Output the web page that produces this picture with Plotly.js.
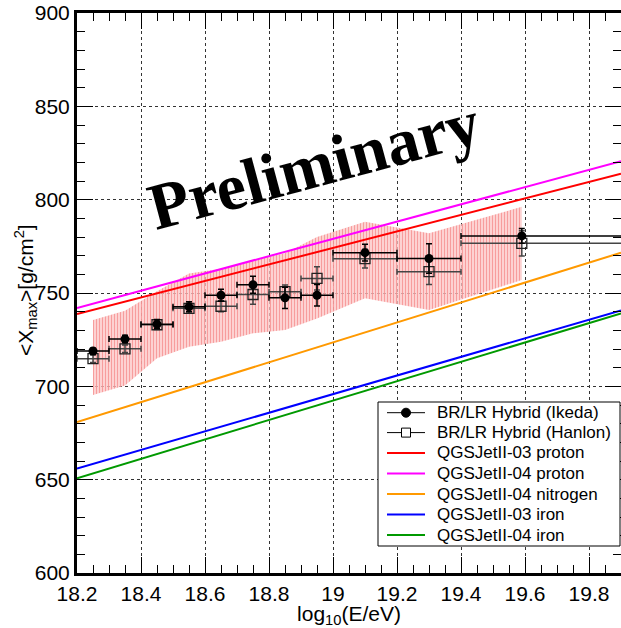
<!DOCTYPE html>
<html>
<head>
<meta charset="utf-8">
<script src="https://cdn.plot.ly/plotly-3.0.1.min.js"></script>
<style>html,body{margin:0;padding:0;background:#fff;}#chart{width:621px;height:628px;}</style>
</head>
<body>
<div id="chart"></div>
<script>
// ---- data ----
const logE      = [18.25, 18.35, 18.45, 18.55, 18.65, 18.75, 18.85, 18.95, 19.10, 19.30, 19.59];
const binMinus  = [0.05, 0.05, 0.05, 0.05, 0.05, 0.05, 0.05, 0.05, 0.10, 0.10, 0.19];
const binPlus   = [0.05, 0.05, 0.05, 0.05, 0.05, 0.05, 0.05, 0.05, 0.10, 0.10, 0.60];
const ikedaXmax = [718.9, 725.3, 733.3, 742.6, 748.8, 754.4, 747.4, 748.8, 771.6, 768.5, 780.6];
const ikedaErr  = [1.5, 2.0, 2.5, 2.7, 3.2, 4.6, 5.7, 5.7, 4.5, 7.9, 3.9];
const hanlonXmax= [714.8, 720.1, 733.0, 741.8, 742.9, 749.2, 750.7, 757.8, 768.4, 761.4, 776.6];
const hanlonErr = [2.0, 2.0, 2.5, 2.7, 3.0, 5.2, 3.6, 6.2, 5.0, 6.8, 6.8];
const sysUpper  = [735.5, 740.5, 751.0, 760.5, 763.0, 767.7, 771.3, 780.0, 788.2, 782.0, 796.2];
const sysLower  = [695.4, 700.5, 715.0, 721.2, 723.9, 728.4, 730.2, 736.4, 747.2, 740.9, 757.0];

const modelE    = [18.2, 19.9];
const qgs03p    = [738.8, 813.9];
const qgs04p    = [742.0, 820.6];
const qgs04N    = [680.8, 771.6];
const qgs03Fe   = [655.9, 740.7];
const qgs04Fe   = [650.8, 739.1];

const xTicks = [18.2, 18.4, 18.6, 18.8, 19.0, 19.2, 19.4, 19.6, 19.8];
const xTickText = ['18.2', '18.4', '18.6', '18.8', '19', '19.2', '19.4', '19.6', '19.8'];

const legendNames  = ['BR/LR Hybrid (Ikeda)', 'BR/LR Hybrid (Hanlon)', 'QGSJetII-03 proton', 'QGSJetII-04 proton',
                      'QGSJetII-04 nitrogen', 'QGSJetII-03 iron', 'QGSJetII-04 iron'];
const modelColors  = ['#ff0000', '#ff00ff', '#ff9900', '#0000ff', '#009900'];

const FONT = 'Liberation Sans, Arial, Helvetica, sans-serif';

// plot area geometry (pixels) for placing legend / labels in paper coordinates
const W = 621, H = 628, ML = 77, MR = 0, MT = 13, MB = 55;
const PW = W - ML - MR, PH = H - MT - MB;
const px = v => (v - ML) / PW;
const py = v => (H - MB - v) / PH;

// ---- traces ----
const bandX = logE.concat(logE.slice().reverse());
const bandY = sysUpper.concat(sysLower.slice().reverse());

const models = [qgs03p, qgs04p, qgs04N, qgs03Fe, qgs04Fe];

const traces = [
  {
    x: bandX, y: bandY, type: 'scatter', mode: 'lines', fill: 'toself',
    line: {width: 0, color: 'rgba(0,0,0,0)'},
    fillcolor: 'rgba(255,255,255,0)',
    fillpattern: {shape: '|', fgcolor: 'rgba(245,140,140,0.8)', bgcolor: 'rgba(255,215,215,0.7)', size: 3, solidity: 0.5},
    showlegend: false, hoverinfo: 'skip'
  }
];
models.forEach((m, i) => traces.push({
  x: modelE, y: m, mode: 'lines', line: {color: modelColors[i], width: 2}, name: legendNames[i + 2], showlegend: false
}));
traces.push({
  x: logE, y: hanlonXmax, mode: 'markers', type: 'scatter', name: legendNames[1],
  marker: {symbol: 'square-open', size: 10, color: '#222', line: {width: 1.3, color: '#222'}},
  error_y: {type: 'data', array: hanlonErr, visible: true, color: '#444', thickness: 1.5, width: 3},
  error_x: {type: 'data', array: binPlus, arrayminus: binMinus, symmetric: false, visible: true, color: '#444', thickness: 1.5, width: 3},
  showlegend: false
});
traces.push({
  x: logE, y: ikedaXmax, mode: 'markers', type: 'scatter', name: legendNames[0],
  marker: {symbol: 'circle', size: 9, color: '#000'},
  error_y: {type: 'data', array: ikedaErr, visible: true, color: '#000', thickness: 1.5, width: 3},
  error_x: {type: 'data', array: binPlus, arrayminus: binMinus, symmetric: false, visible: true, color: '#000', thickness: 1.5, width: 3},
  showlegend: false
});

// ---- legend (drawn as shapes + text) ----
const shapes = [];
const annotations = [];
const box = {x0: 378, x1: 620, y0: 402, y1: 546};
shapes.push({type: 'rect', xref: 'paper', yref: 'paper', x0: px(box.x0), x1: px(box.x1), y0: py(box.y1), y1: py(box.y0),
             fillcolor: '#fff', line: {color: '#000', width: 1}, layer: 'above'});
const rowY = [412.7, 432.6, 452.9, 473.4, 494.0, 514.6, 535.0];
const symX0 = 387, symX1 = 425, symC = 406;
legendNames.forEach((name, i) => {
  const yy = py(rowY[i]);
  const col = i < 2 ? '#000' : modelColors[i - 2];
  shapes.push({type: 'line', xref: 'paper', yref: 'paper', x0: px(symX0), x1: px(symX1), y0: yy, y1: yy,
               line: {color: col, width: i < 2 ? 1 : 2}, layer: 'above'});
  if (i === 0) {
    shapes.push({type: 'circle', xref: 'paper', yref: 'paper', x0: px(symC - 4.5), x1: px(symC + 4.5),
                 y0: py(rowY[i] + 4.5), y1: py(rowY[i] - 4.5), fillcolor: '#000', line: {color: '#000', width: 1}, layer: 'above'});
  } else if (i === 1) {
    shapes.push({type: 'rect', xref: 'paper', yref: 'paper', x0: px(symC - 4.5), x1: px(symC + 4.5),
                 y0: py(rowY[i] + 4.5), y1: py(rowY[i] - 4.5), fillcolor: '#fff', line: {color: '#000', width: 1}, layer: 'above'});
  }
  annotations.push({text: name, xref: 'paper', yref: 'paper', x: px(435), y: yy, xanchor: 'left', yanchor: 'middle',
                    showarrow: false, font: {family: FONT, size: 17, color: '#000'}});
});

annotations.push({
  text: '<b>Preliminary</b>', x: 18.94, y: 819, xref: 'x', yref: 'y',
  showarrow: false, textangle: -15,
  font: {family: 'Liberation Serif, Times New Roman, serif', size: 66, color: '#000'}
});
annotations.push({
  text: '&lt;X<sub>max</sub>&gt;[g/cm<sup>2</sup>]', xref: 'paper', yref: 'paper', x: px(25), y: py(290),
  xanchor: 'center', yanchor: 'middle', showarrow: false, textangle: -90,
  font: {family: FONT, size: 21, color: '#000'}
});

const layout = {
  width: W, height: H,
  margin: {l: ML, r: MR, t: MT, b: MB},
  paper_bgcolor: '#fff', plot_bgcolor: '#fff',
  font: {family: FONT, color: '#000', size: 21},
  showlegend: false,
  xaxis: {
    range: [18.2, 19.9], tickmode: 'array', tickvals: xTicks, ticktext: xTickText,
    ticks: 'inside', ticklen: 16, tickwidth: 1, tickcolor: '#000',
    minor: {dtick: 0.05, tick0: 18.2, ticks: 'inside', ticklen: 8, tickcolor: '#000', showgrid: false},
    showgrid: true, gridcolor: '#333', griddash: 'dot', gridwidth: 1,
    showline: true, linecolor: '#000', linewidth: 3, mirror: 'allticks',
    zeroline: false, tickfont: {size: 21, family: FONT},
    title: {text: 'log<sub>10</sub>(E/eV)', font: {size: 21, family: FONT}, standoff: 2}
  },
  yaxis: {
    range: [600, 900], dtick: 50, tick0: 600,
    ticks: 'inside', ticklen: 16, tickwidth: 1, tickcolor: '#000',
    minor: {dtick: 10, tick0: 600, ticks: 'inside', ticklen: 8, tickcolor: '#000', showgrid: false},
    showgrid: true, gridcolor: '#333', griddash: 'dot', gridwidth: 1,
    showline: true, linecolor: '#000', linewidth: 3, mirror: 'allticks',
    zeroline: false, tickfont: {size: 21, family: FONT}
  },
  shapes: shapes,
  annotations: annotations
};

Plotly.newPlot('chart', traces, layout, {displayModeBar: false, staticPlot: true});
</script>
</body>
</html>
